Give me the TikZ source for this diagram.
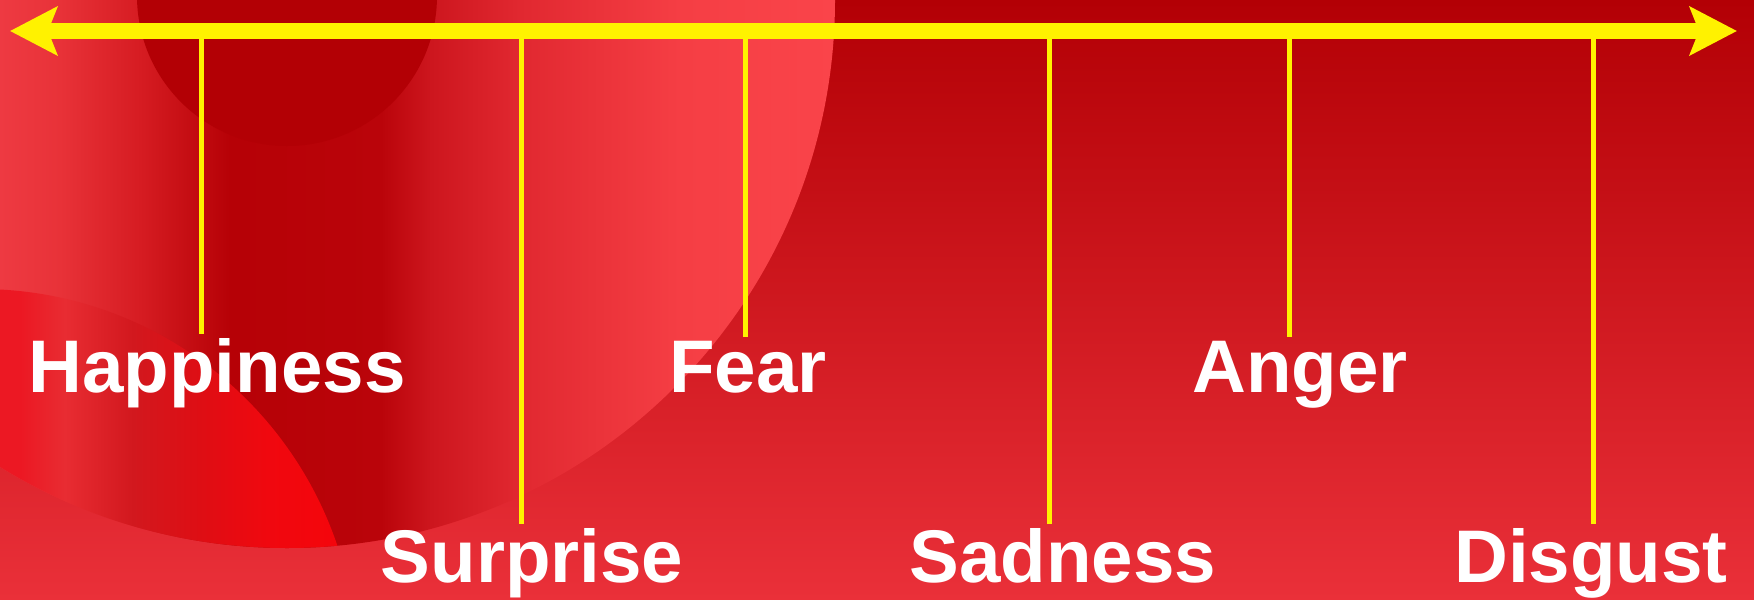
\documentclass[tikz,border=0pt]{standalone}
\usepackage{fontspec}
\setmainfont{Liberation Sans}
\usetikzlibrary{arrows.meta}

\definecolor{bgtop}{RGB}{179,0,5}
\definecolor{bgbot}{RGB}{234,48,57}
\definecolor{core}{RGB}{179,0,5}
% colours across the big ball
\definecolor{b0}{RGB}{238,58,66}
\definecolor{b1}{RGB}{232,50,56}
\definecolor{b2}{RGB}{214,28,34}
\definecolor{b3}{RGB}{182,1,6}
\definecolor{b4}{RGB}{186,4,10}
\definecolor{b5}{RGB}{205,22,30}
\definecolor{b6}{RGB}{225,40,48}
\definecolor{b7}{RGB}{245,62,68}
\definecolor{b8}{RGB}{250,68,74}
% colours across the bright ball
\definecolor{r0}{RGB}{236,24,35}
\definecolor{r1}{RGB}{232,44,50}
\definecolor{r2}{RGB}{210,24,30}
\definecolor{r3}{RGB}{222,14,20}
\definecolor{r4}{RGB}{240,8,15}
\definecolor{r5}{RGB}{246,4,10}

\pgfdeclarehorizontalshading{ballshade}{100bp}{color(0bp)=(b0); color(25bp)=(b0);
  color(28.6bp)=(b1); color(33.4bp)=(b2); color(38.8bp)=(b3); color(47.8bp)=(b4);
  color(50.8bp)=(b5); color(56.1bp)=(b6); color(65.7bp)=(b7); color(75bp)=(b8);
  color(100bp)=(b8)}
\pgfdeclarehorizontalshading{brightshade}{100bp}{color(0bp)=(r0); color(27.8bp)=(r0);
  color(34.1bp)=(r1); color(43.6bp)=(r2); color(53bp)=(r3); color(62.4bp)=(r4);
  color(75bp)=(r5); color(100bp)=(r5)}

\begin{document}
\begin{tikzpicture}[x=0.01cm, y=-0.01cm,
  axisline/.style={yellow, line width=0.15cm,
    {Stealth[length=0.47cm,width=0.48cm,inset=0.09cm]}-{Stealth[length=0.47cm,width=0.48cm,inset=0.09cm]}},
  emoline/.style={yellow, line width=0.05cm, shorten >=0.03cm},
  emo/.style={text=white, font=\fontsize{21.2}{25}\selectfont\bfseries, inner sep=0pt, anchor=base}]
  \useasboundingbox (0,0) rectangle (1754,600);

  % background
  \shade[top color=bgtop, bottom color=bgbot] (0,0) rectangle (1754,600);
  \begin{scope}
    \clip (287,0) circle (548);
    \shade[shading=ballshade] (0,0) rectangle (835,600);
    \clip (-20,666) circle (377);
    \shade[shading=brightshade] (0,0) rectangle (357,600);
  \end{scope}
  \fill[core] (287,-4) circle (150);

  % axis
  \coordinate (a1) at (10,31);
  \coordinate (a2) at (1737,31);
  \coordinate (t1) at (201,31);
  \coordinate (t2) at (521,31);
  \coordinate (t3) at (745,31);
  \coordinate (t4) at (1049,31);
  \coordinate (t5) at (1289,31);
  \coordinate (t6) at (1593,31);

  \node[emo] (e1) at (217,392) {Happiness};
  \node[emo] (e2) at (532,582) {Surprise};
  \node[emo] (e3) at (748,392) {Fear};
  \node[emo] (e4) at (1063,582) {Sadness};
  \node[emo] (e5) at (1300,392) {Anger};
  \node[emo] (e6) at (1591,582) {Disgust};

  \draw[emoline] (t1) -- (t1 |- e1.north);
  \draw[emoline] (t2) -- (t2 |- e2.north);
  \draw[emoline] (t3) -- (t3 |- e3.north);
  \draw[emoline] (t4) -- (t4 |- e4.north);
  \draw[emoline] (t5) -- (t5 |- e5.north);
  \draw[emoline] (t6) -- (t6 |- e6.north);
  \draw[axisline] (a1) -- (a2);
\end{tikzpicture}
\end{document}
